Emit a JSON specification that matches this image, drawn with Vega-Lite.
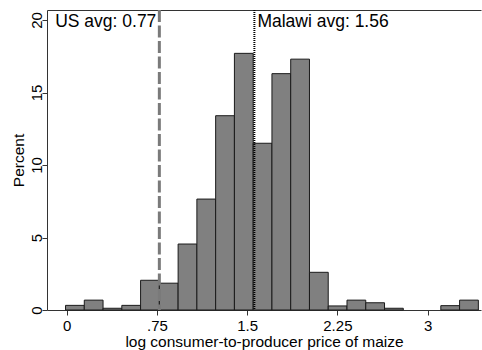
{
  "$schema": "https://vega.github.io/schema/vega-lite/v6.json",
  "width": 434,
  "height": 300,
  "autosize": {"type": "none"},
  "padding": {"left": 47, "top": 10, "right": 1, "bottom": 40},
  "background": "white",
  "config": {
    "view": {"stroke": null},
    "font": "Liberation Sans",
    "axis": {
      "grid": false,
      "domainColor": "#333333",
      "tickColor": "#333333",
      "labelColor": "#000000",
      "titleColor": "#000000",
      "labelFont": "Liberation Sans",
      "titleFont": "Liberation Sans",
      "titleFontWeight": "normal",
      "labelFontSize": 15,
      "titleFontSize": 15.5,
      "tickSize": 5
    }
  },
  "datasets": {
    "bins": [
      {"start": -0.010, "end": 0.146, "pct": 0.32},
      {"start": 0.146, "end": 0.302, "pct": 0.68},
      {"start": 0.302, "end": 0.458, "pct": 0.12},
      {"start": 0.458, "end": 0.614, "pct": 0.32},
      {"start": 0.614, "end": 0.770, "pct": 2.05},
      {"start": 0.770, "end": 0.926, "pct": 1.85},
      {"start": 0.926, "end": 1.082, "pct": 4.55},
      {"start": 1.082, "end": 1.238, "pct": 7.65},
      {"start": 1.238, "end": 1.394, "pct": 13.4},
      {"start": 1.394, "end": 1.550, "pct": 17.7},
      {"start": 1.550, "end": 1.706, "pct": 11.5},
      {"start": 1.706, "end": 1.862, "pct": 16.3},
      {"start": 1.862, "end": 2.018, "pct": 17.3},
      {"start": 2.018, "end": 2.174, "pct": 2.6},
      {"start": 2.174, "end": 2.330, "pct": 0.28},
      {"start": 2.330, "end": 2.486, "pct": 0.68},
      {"start": 2.486, "end": 2.642, "pct": 0.5},
      {"start": 2.642, "end": 2.798, "pct": 0.12},
      {"start": 3.110, "end": 3.266, "pct": 0.3},
      {"start": 3.266, "end": 3.422, "pct": 0.68}
    ],
    "us": [{"v": 0.77, "label": "US avg: 0.77"}],
    "malawi": [{"v": 1.56, "label": "Malawi avg: 1.56"}]
  },
  "layer": [
    {
      "data": {"name": "bins"},
      "mark": {"type": "rect", "fill": "#808080", "stroke": "#1a1a1a", "strokeWidth": 1},
      "encoding": {
        "x": {
          "field": "start",
          "type": "quantitative",
          "scale": {"domain": [-0.164, 3.444], "nice": false, "zero": false},
          "axis": {
            "orient": "bottom",
            "values": [0, 0.75, 1.5, 2.25, 3],
            "labelExpr": "datum.value == 0.75 ? '.75' : format(datum.value, '~g')",
            "title": "log consumer-to-producer price of maize",
            "labelPadding": 3,
            "titlePadding": 1,
            "labelFlush": false
          }
        },
        "x2": {"field": "end"},
        "y": {
          "field": "pct",
          "type": "quantitative",
          "scale": {"domain": [0, 20.69], "nice": false},
          "axis": {
            "values": [0, 5, 10, 15, 20],
            "labelAngle": -90,
            "labelAlign": "center",
            "labelBaseline": "alphabetic",
            "labelPadding": 1,
            "title": "Percent",
            "titlePadding": 3
          }
        },
        "y2": {"datum": 0}
      }
    },
    {
      "data": {"name": "us"},
      "mark": {"type": "rule", "stroke": "#7a7a7a", "strokeWidth": 3, "strokeDash": [12, 3.5]},
      "encoding": {
        "x": {
          "field": "v",
          "type": "quantitative",
          "axis": {"orient": "top", "labels": false, "ticks": false, "title": null, "domain": true}
        }
      }
    },
    {
      "data": {"name": "malawi"},
      "mark": {"type": "rule", "stroke": "#000000", "strokeWidth": 2, "strokeDash": [1, 1]},
      "encoding": {
        "x": {"field": "v", "type": "quantitative", "axis": null}
      }
    },
    {
      "data": {"name": "us"},
      "mark": {"type": "text", "align": "right", "baseline": "top", "dx": -3, "dy": 3, "fontSize": 17.5, "color": "#000000"},
      "encoding": {
        "x": {"field": "v", "type": "quantitative", "axis": null},
        "y": {"datum": 20.69, "type": "quantitative"},
        "text": {"field": "label"}
      }
    },
    {
      "data": {"name": "malawi"},
      "mark": {"type": "text", "align": "left", "baseline": "top", "dx": 3, "dy": 3, "fontSize": 17.5, "color": "#000000"},
      "encoding": {
        "x": {"field": "v", "type": "quantitative", "axis": null},
        "y": {"datum": 20.69, "type": "quantitative"},
        "text": {"field": "label"}
      }
    }
  ],
  "resolve": {"axis": {"x": "independent"}}
}
